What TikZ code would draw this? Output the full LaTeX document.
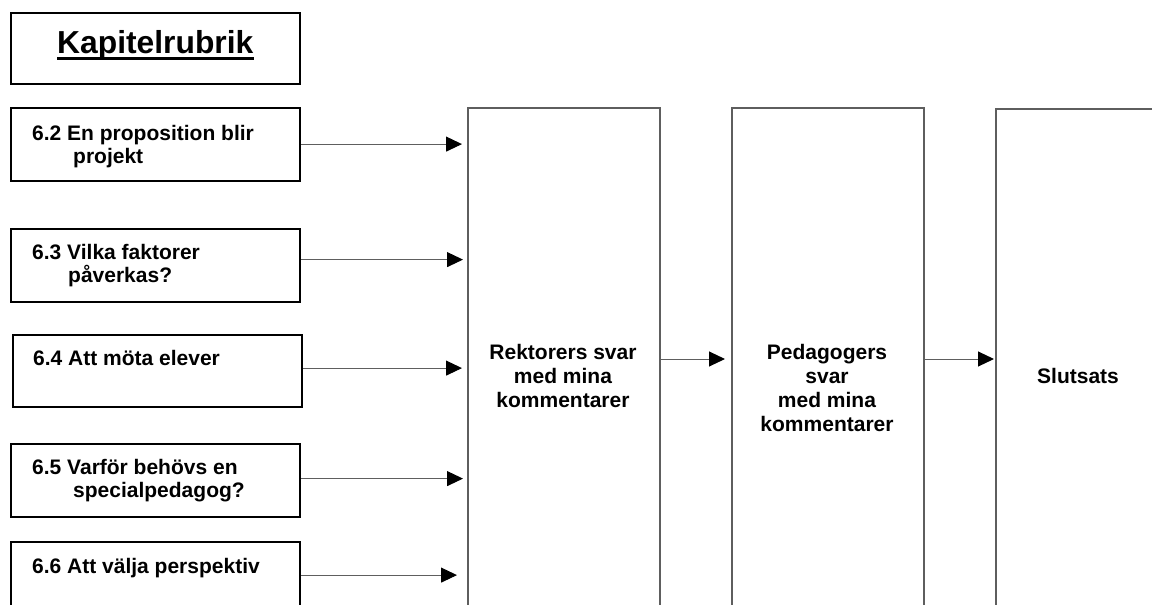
\documentclass[tikz,border=0pt]{standalone}
\usepackage{fontspec}
\setmainfont{Liberation Sans}
\usetikzlibrary{arrows.meta}
\definecolor{edgegray}{HTML}{5E5E5E}
\begin{document}
\begin{tikzpicture}[x=1pt,y=-1pt,
  secbox/.style={draw=black,line width=2.2pt,minimum width=289pt,minimum height=73pt,inner sep=0pt,anchor=north west},
  bigbox/.style={draw=edgegray,line width=1.6pt,minimum width=192pt,minimum height=600pt,inner sep=0pt,anchor=north west},
  txt/.style={font=\fontsize{21}{23}\selectfont\bfseries,inner sep=0pt,align=left,anchor=base west},
  bigtxt/.style={font=\fontsize{21}{24}\selectfont\bfseries,inner sep=0pt,align=center,anchor=base},
  arr/.style={draw=edgegray,line width=1pt,-{Triangle[length=16pt,width=15pt,black]}}]
\useasboundingbox (0,0) rectangle (1152,605);
\clip (0,0) rectangle (1152,605);
% left boxes
\node[secbox,minimum height=71pt] (title) at (10,12) {};
\node[secbox] (b62) at (10,107) {};
\node[secbox] (b63) at (10,228) {};
\node[secbox,minimum height=72pt] (b64) at (12,334) {};
\node[secbox] (b65) at (10,443) {};
\node[secbox] (b66) at (10,541) {};
% texts (base anchor = baseline of last line)
\node[font=\fontsize{31.8}{36}\selectfont\bfseries,inner sep=0pt,anchor=base west] (ttl) at (57,53) {Kapitelrubrik};
\draw[line width=2.2pt] ([yshift=-5.5pt]ttl.base west) -- ([yshift=-5.5pt]ttl.base east);
\node[txt] (t62) at (32,163) {6.2 En proposition blir\\\hspace*{41pt}projekt};
\node[txt] (t63) at (32,282) {6.3 Vilka faktorer\\\hspace*{36pt}påverkas?};
\node[txt] (t64) at (33,365) {6.4 Att möta elever};
\node[txt] (t65) at (32,497) {6.5 Varför behövs en\\\hspace*{41pt}specialpedagog?};
\node[txt] (t66) at (32,573) {6.6 Att välja perspektiv};
% big boxes
\node[bigbox] (rek) at (467,107) {};
\node[bigbox] (ped) at (731,107) {};
\node[bigbox,minimum width=300pt] (slut) at (995,108) {};
\node[bigtxt] (trek) at (563,407) {Rektorers svar\\med mina\\kommentarer};
\node[bigtxt] (tped) at (827,431) {Pedagogers\\svar\\med mina\\kommentarer};
\node[bigtxt] (tslut) at (1078,383) {Slutsats};
% arrows
\coordinate (mid) at (0,359);
\draw[arr,shorten >=5pt] ([yshift=0.5pt]b62.east) -- ([yshift=0.5pt]b62.east -| rek.west);
\draw[arr,shorten >=4pt] ([yshift=6pt]b63.east) -- ([yshift=6pt]b63.east -| rek.west);
\draw[arr,shorten >=5pt] ([yshift=3pt]b64.east) -- ([yshift=3pt]b64.east -| rek.west);
\draw[arr,shorten >=4pt] ([yshift=2pt]b65.east) -- ([yshift=2pt]b65.east -| rek.west);
\draw[arr,shorten >=10pt] ([yshift=3.5pt]b66.east) -- ([yshift=3.5pt]b66.east -| rek.west);
\draw[arr,shorten >=6pt] (rek.east |- mid) -- (ped.west |- mid);
\draw[arr,shorten >=1pt] (ped.east |- mid) -- (slut.west |- mid);
\end{tikzpicture}
\end{document}
